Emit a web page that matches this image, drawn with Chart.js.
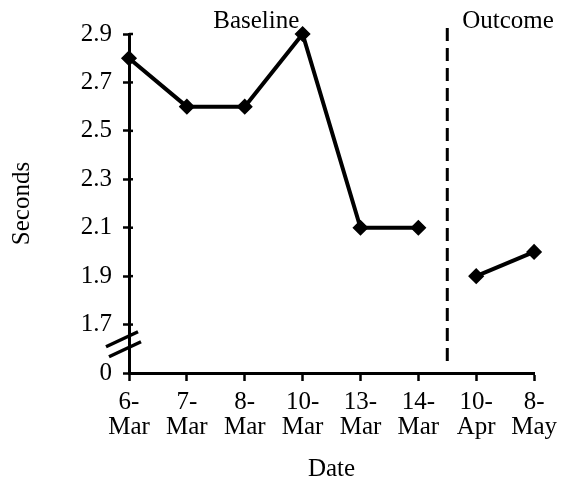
<!DOCTYPE html>
<html>
<head>
<meta charset="utf-8">
<script src="https://cdn.jsdelivr.net/npm/chart.js@4"></script>
<style>
  html, body { margin: 0; padding: 0; background: #fff; }
  #wrap { width: 566px; height: 485px; position: relative; }
</style>
</head>
<body>
<div id="wrap"><canvas id="c" width="566" height="485"></canvas></div>
<script>
// ---- data ----
const categories = [['6-','Mar'],['7-','Mar'],['8-','Mar'],['10-','Mar'],['13-','Mar'],['14-','Mar'],['10-','Apr'],['8-','May']];
const baselineValues = [2.8, 2.6, 2.6, 2.9, 2.1, 2.1, null, null];
const outcomeValues  = [null, null, null, null, null, null, 1.9, 2.0];
const yTickValues = [1.5, 1.7, 1.9, 2.1, 2.3, 2.5, 2.7, 2.9];
const yTickLabels = ['0', '1.7', '1.9', '2.1', '2.3', '2.5', '2.7', '2.9'];
const phaseLabels = ['Baseline', 'Outcome'];
const phasePositions = [2.2, 6.55];   // category-index positions of phase labels
const phaseChangeAt = 5.5;            // between 14-Mar and 10-Apr
const breakValue = 1.6;               // axis break between "0" and 1.7

const FONT = "'Liberation Serif', 'Times New Roman', serif";

const decorations = {
  id: 'decorations',
  afterDraw(chart) {
    const {ctx, chartArea, scales: {x, y}} = chart;
    ctx.save();
    ctx.strokeStyle = '#000';
    // inner tick parts on y axis
    ctx.lineWidth = 2.5;
    yTickValues.forEach(v => {
      if (v === yTickValues[0]) return;
      const py = y.getPixelForValue(v);
      ctx.beginPath();
      ctx.moveTo(chartArea.left, py);
      ctx.lineTo(chartArea.left + 4, py);
      ctx.stroke();
    });
    // axis break slashes
    const ax = chartArea.left;
    const yb = y.getPixelForValue(breakValue);
    ctx.lineWidth = 3.5;
    ctx.beginPath();
    ctx.moveTo(ax - 23, yb - 2);
    ctx.lineTo(ax + 9, yb - 17);
    ctx.moveTo(ax - 20, yb + 8);
    ctx.lineTo(ax + 12, yb - 7);
    ctx.stroke();
    // phase change dashed line
    const dx = x.getPixelForValue(phaseChangeAt);
    ctx.lineWidth = 3;
    ctx.setLineDash([13, 7]);
    ctx.beginPath();
    ctx.moveTo(dx, 28);
    ctx.lineTo(dx, chartArea.bottom - 8);
    ctx.stroke();
    ctx.setLineDash([]);
    // phase labels
    ctx.fillStyle = '#000';
    ctx.font = "25px " + FONT;
    ctx.textAlign = 'center';
    ctx.textBaseline = 'alphabetic';
    phaseLabels.forEach((t, i) => {
      ctx.fillText(t, x.getPixelForValue(phasePositions[i]), 28);
    });
    ctx.restore();
  }
};

const pointStyle = {
  borderColor: '#000',
  backgroundColor: '#000',
  borderWidth: 4,
  pointStyle: 'rectRot',
  pointRadius: 7,
  pointBorderWidth: 1.5,
  pointBackgroundColor: '#000',
  pointBorderColor: '#000',
  tension: 0,
  spanGaps: false,
  clip: false
};

new Chart(document.getElementById('c'), {
  type: 'line',
  data: {
    labels: categories,
    datasets: [
      Object.assign({ label: phaseLabels[0], data: baselineValues }, pointStyle),
      Object.assign({ label: phaseLabels[1], data: outcomeValues }, pointStyle)
    ]
  },
  options: {
    responsive: false,
    animation: false,
    layout: { padding: { top: 34, right: 29, bottom: 0, left: 0 } },
    plugins: { legend: { display: false }, tooltip: { enabled: false } },
    scales: {
      x: {
        offset: false,
        grid: { display: true, drawOnChartArea: false, drawTicks: true, tickLength: 8, tickWidth: 2.5, tickColor: '#000' },
        border: { display: true, color: '#000', width: 3 },
        ticks: { color: '#000', font: { family: FONT, size: 25, lineHeight: 1.0 }, padding: 9, maxRotation: 0, autoSkip: false },
        title: { display: true, text: 'Date', color: '#000', font: { family: FONT, size: 25 }, padding: { top: 0, bottom: 1 } },
        afterFit(s) { s.height = 112; }
      },
      y: {
        min: 1.5,
        max: 2.9,
        afterBuildTicks(s) { s.ticks = yTickValues.map(v => ({ value: v })); },
        grid: { display: true, drawOnChartArea: false, drawTicks: true, tickLength: 6, tickWidth: 2.5, tickColor: '#000' },
        border: { display: true, color: '#000', width: 3 },
        ticks: {
          color: '#000', font: { family: FONT, size: 25 }, padding: 11,
          callback(v, i) { return yTickLabels[i]; }
        },
        title: { display: true, text: 'Seconds', color: '#000', font: { family: FONT, size: 25 }, padding: { top: 7, bottom: 7 } },
        afterFit(s) { s.width = 129; }
      }
    }
  },
  plugins: [decorations]
});
</script>
</body>
</html>
